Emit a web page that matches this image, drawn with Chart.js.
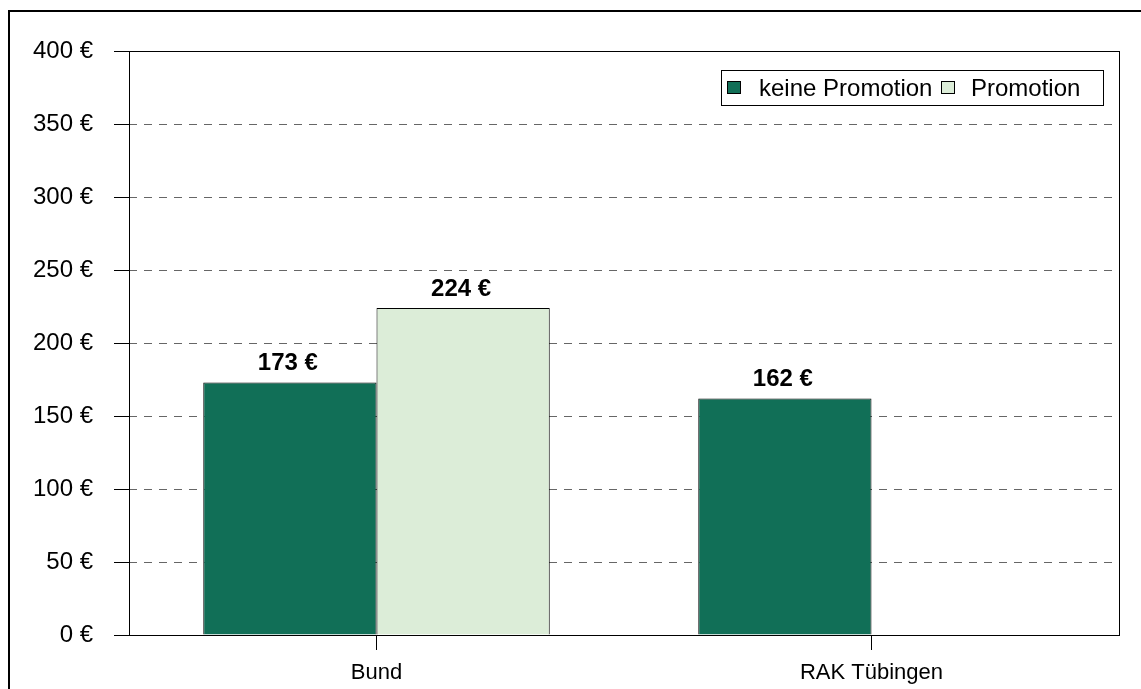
<!DOCTYPE html>
<html lang="de">
<head>
<meta charset="UTF-8">
<title>Promotion</title>
<script src="https://cdn.jsdelivr.net/npm/chart.js"></script>
<style>
    html, body { margin: 0; padding: 0; background: #fff; }
    #wrap { position: absolute; left: 0; top: 0; width: 1141px; height: 689px; }
</style>
</head>
<body>
<div id="wrap"><canvas id="chart"></canvas></div>
<script>
    const categories = ['Bund', 'RAK Tübingen'];
    const keinePromotion = [173, 162];
    const promotion = [224, null];
    const seriesNames = ['keine Promotion', 'Promotion'];
    const yTicks = [0, 50, 100, 150, 200, 250, 300, 350, 400];

    const darkGreen = '#116f57';
    const lightGreen = '#dcedd8';
    const font = "'Liberation Sans', Arial, sans-serif";

    // outer frame, plot border, value labels, legend
    const decorations = {
        id: 'decorations',
        afterDraw(chart) {
            const ctx = chart.ctx;
            const a = chart.chartArea;
            ctx.save();

            ctx.strokeStyle = '#000';
            ctx.lineWidth = 2;
            ctx.beginPath();
            ctx.moveTo(9, 1200);
            ctx.lineTo(9, 11);
            ctx.lineTo(1200, 11);
            ctx.stroke();

            ctx.lineWidth = 1;
            ctx.strokeRect(Math.round(a.left) + 0.5, Math.round(a.top) + 0.5,
                Math.round(a.right - a.left), Math.round(a.bottom - a.top));

            ctx.fillStyle = '#000';
            ctx.font = 'bold 24px ' + font;
            ctx.textAlign = 'center';
            ctx.textBaseline = 'alphabetic';
            chart.data.datasets.forEach((ds, i) => {
                chart.getDatasetMeta(i).data.forEach((bar, j) => {
                    if (ds.data[j] == null) return;
                    ctx.fillText(ds.data[j] + ' €', bar.x - 2, bar.y - 12);
                });
            });

            // legend
            ctx.font = '24px ' + font;
            ctx.textAlign = 'left';
            const w1 = ctx.measureText(seriesNames[0]).width;
            const w2 = ctx.measureText(seriesNames[1]).width;
            const boxW = Math.round(6 + 14 + 18 + w1 + 9 + 14 + 16 + w2 + 22);
            const bx = Math.round(a.right - 16 - boxW);
            const by = 70, bh = 35;
            ctx.fillStyle = '#fff';
            ctx.fillRect(bx, by, boxW, bh);
            ctx.strokeStyle = '#000';
            ctx.strokeRect(bx + 0.5, by + 0.5, boxW, bh);
            let x = bx + 6;
            const sqY = by + 11;
            [[darkGreen, w1], [lightGreen, w2]].forEach(([c, w], i) => {
                ctx.fillStyle = c;
                ctx.fillRect(x, sqY, 14, 13);
                ctx.strokeRect(x + 0.5, sqY + 0.5, 13, 12);
                x += 14 + (i === 0 ? 18 : 16);
                ctx.fillStyle = '#000';
                ctx.fillText(seriesNames[i], x, by + 26);
                x += Math.round(w) + 9;
            });
            ctx.restore();
        }
    };

    new Chart(document.getElementById('chart'), {
        type: 'bar',
        data: {
            labels: categories,
            datasets: [
                { label: seriesNames[0], data: keinePromotion, backgroundColor: darkGreen,
                  borderColor: '#000', borderWidth: 1 },
                { label: seriesNames[1], data: promotion, backgroundColor: lightGreen,
                  borderColor: '#000', borderWidth: 1 }
            ]
        },
        options: {
            responsive: true,
            maintainAspectRatio: false,
            animation: false,
            layout: { padding: { left: 0, right: 22, top: 51, bottom: 0 } },
            datasets: { bar: { categoryPercentage: 0.7, barPercentage: 1.0 } },
            plugins: {
                legend: { display: false },
                tooltip: { enabled: false }
            },
            scales: {
                x: {
                    offset: true,
                    grid: { offset: false, drawOnChartArea: false, drawTicks: true,
                            tickLength: 15, tickColor: '#000' },
                    border: { display: false },
                    ticks: { color: '#000', padding: 10, font: { family: font, size: 22 } },
                    afterFit(s) { s.height = 54; }
                },
                y: {
                    min: 0,
                    max: 400,
                    afterBuildTicks(s) { s.ticks = yTicks.map(v => ({ value: v })); },
                    grid: { color: '#666', tickColor: '#000', tickLength: 15,
                            tickBorderDash: [] },
                    border: { display: false, dash: [8, 7] },
                    ticks: { color: '#000', padding: 21, font: { family: font, size: 24 },
                             callback: v => v + ' €' },
                    afterFit(s) { s.width = 129; }
                }
            }
        },
        plugins: [decorations]
    });
</script>
</body>
</html>
